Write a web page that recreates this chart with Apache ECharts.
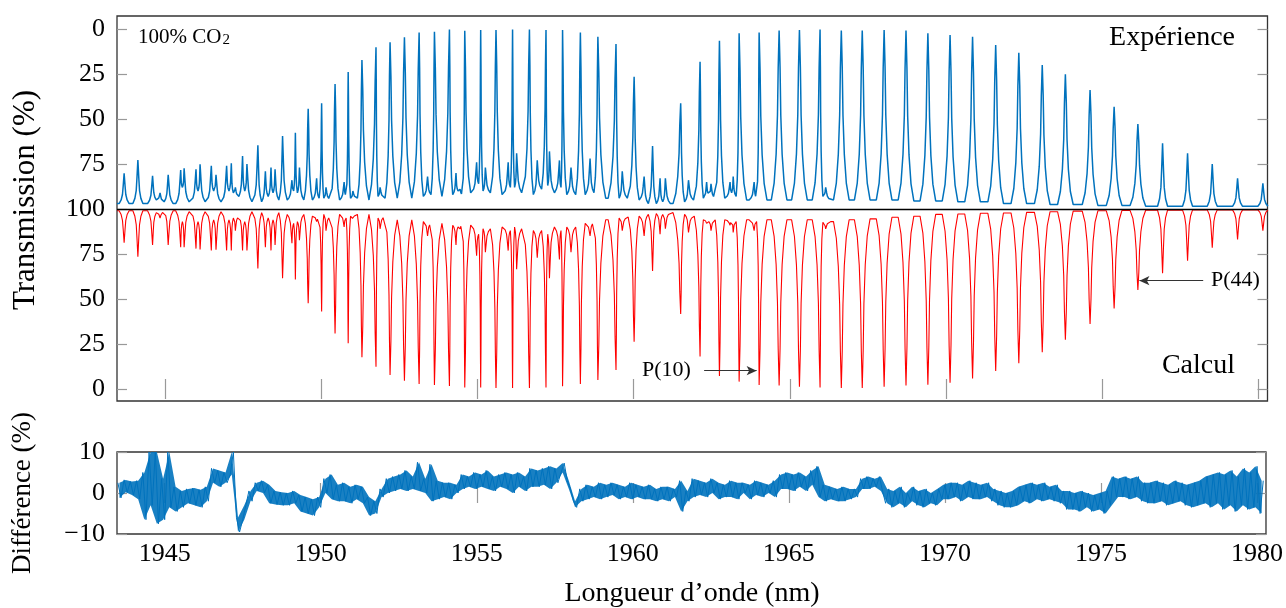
<!DOCTYPE html>
<html><head><meta charset="utf-8">
<script src="https://cdn.jsdelivr.net/npm/echarts@6/dist/echarts.min.js"></script>
<style>html,body{margin:0;padding:0;background:#fff}#c{width:1286px;height:608px}</style>
</head><body><div id="c"></div>
<script>
// ---- data ----
// line centres (nm)
const lineNm = [
1943.70,1944.14,1944.61,1944.85,1945.11,1945.51,1945.62,1946.00,1946.13,1946.49,
1946.64,1946.98,1947.13,1947.26,1947.49,1947.63,1947.98,1948.22,1948.40,1948.53,
1948.77,1949.07,1949.18,1949.31,1949.59,1949.86,1950.02,1950.16,1950.45,1950.74,
1950.87,1951.02,1951.31,1951.76,1951.89,1952.21,1952.67,1953.14,1953.41,1953.63,
1954.11,1954.32,1954.45,1954.60,1954.98,1955.11,1955.26,1955.60,1955.99,1956.13,
1956.26,1956.67,1956.92,1957.20,1957.31,1957.63,1957.73,1958.00,1958.30,1958.61,
1958.86,1959.44,1959.64,1960.02,1960.34,1960.61,1960.85,1961.02,1961.51,1961.76,
1962.13,1962.34,1962.48,1962.75,1963.09,1963.19,1963.38,1963.86,1964.02,1964.66,
1965.31,1965.97,1966.15,1966.65,1967.32,1968.02,1968.72,1969.42,1970.13,1970.85,
1971.59,1972.33,1973.08,1973.82,1974.61,1975.38,1976.14,1976.93,1977.73,1978.52,
1979.33,1980.14];
// measured transmission (%) at each line centre
const expPeak = [
80.2,72.8,81.5,91,81,78.3,77.4,78,75.2,76,
81,76,74.6,88,70.6,75,64.6,79,77,78,
59.4,84,57.6,77,44.3,83,41.3,88,30.6,85,
23.9,90,17.2,10.2,88,7.4,4.6,2.0,82,1.6,
0.3,80,89,1.0,74,0.6,77,0.6,74,0.3,
69,0.3,73,0.6,68,73,0.6,77,1.9,72,
4.3,8.3,79,26.5,82,65,83,83,41.3,84,
18.2,85,86,6.5,85,82,2.4,85,2.0,0.9,
0.6,0.3,88,0.9,0.9,0.6,0.9,2.4,3.3,4.3,
8.9,13.2,20,25.2,33.9,43.2,52.8,63.5,69.1,75,
83,85.8];
// calculated transmission (%) at each line centre
const calcPeak = [
81.3,73.5,80,95,80,78.7,78.7,78,77.5,76.9,
77.4,77,77,88,76.9,77,67,78.7,77,80,
61.5,81,60.9,82.6,47.6,93,43,88,30.9,90,
25.4,94,17.6,12.4,89,7.8,4.6,2.8,85,2.2,
1.7,80,89,0.9,74,0.9,76,0.6,76.9,0.6,
66.5,0.6,73,0.9,61.5,72,1.5,76,2.8,85,
5.0,10.6,88,26.3,85,65.6,86,89,41.7,87,
18,92,88,7.2,91,87,4.1,88,2.2,1.9,
1.3,0.9,89,0.6,0.6,1.3,1.9,2.4,3.5,5.9,
10,14.3,20.4,27.4,36.1,44.8,55,64.3,71.3,78.5,
83.1,88];
// transmission (%) between lines: before the first line, then after each line
const expGap = [97,
97,97,95,96,97,88,96,90,96,90,
96,90,91,93,90,96,96,93,91,95,
95,90,91,95,95,94,94,95,95,93,
94,94,95,93,94,94,94,93,92,93,
92,90,92,91,86,90,91,92,88,88,
91,92,89,87,91,88,92,92,92,91,
94,94,94,95,97,97,96,97,96,95,
94,92,94,94,91,93,95,94,95,95,
95,93,95,95,95,95,95.5,95.5,96,96,
97,97,97.5,97.5,98,98,98.5,98.5,98.5,98.5,
98.5,98.5];
const calcGap = [99,
99,99,98,98.5,99,93,98.5,93,98.5,94,
98.5,94,95,96,93,98.5,98,95,94,98,
97,92,93,97,96,95,97,96,97,95,
96,97,97,95,96,94,94,93,92,92,
91,90,91,91,86,89,89,90,88,90,
89,88,88,86,90,88,90,90,92,92.6,
94,95,95.5,96,97,97.5,97,98,97,96,
94,93,94,94,93,93,94,93,94,94,
94,92.6,93,94,94.5,95.4,96,97,97.2,97.6,
97.8,98.1,98.5,98.8,99,99.2,99.3,99.4,99.5,99.5,
99.5,99.5];
// difference (%) sampled every 0.1 nm from 1943.5 nm
const diffStart = 1943.5, diffStep = 0.1;
const diffValues = [
2.5,-1.2,3.2,0.2,2.8,
-0.5,3.0,-1.5,5.0,-6.5,10,-3,10,-7.5,3.5,
-6.5,10,-3.5,1.5,-4.5,0.5,-3.5,1.0,-2.5,1.2,
-3.0,0.8,-3.5,1.5,-2.0,6.0,2.5,5.5,1.5,5.0,
2.5,4.5,10,-6.0,-9.5,-6.5,-3.0,0.5,-2.0,2.5,
0.5,3.0,0.0,2.0,-2.5,0.5,-2.8,0.2,-3.0,0.0,
-3.0,0.5,-2.5,-0.5,-4.5,-1.0,-5.0,-1.5,-5.5,-1.0,
-3.5,3.5,0.0,4.5,-1.5,2.0,-2.0,2.5,-2.0,1.5,
-2.5,2.0,-1.5,1.5,-2.5,-1.0,-5.5,-2.0,-5.0,1.0,
-1.0,3.5,0.0,4.0,0.5,4.5,1.0,5.5,0.5,4.0,
1.0,7.5,0.5,3.5,0.0,7.0,-2.0,3.0,-1.5,2.5,
-1.0,2.5,-1.5,2.0,0.0,4.5,1.0,4.0,1.5,5.0,
1.0,4.5,1.5,5.5,1.0,4.0,0.5,4.5,1.5,5.0,
1.0,4.5,0.0,5.0,1.5,4.0,0.5,6.0,1.5,5.5,
1.5,6.0,2.0,6.5,1.0,6.0,2.5,5.0,7.3,3.0,
1.0,-2.0,-3.5,1.0,-2.0,2.0,-1.5,1.5,-1.0,2.5,
-1.5,2.0,-1.0,2.5,-0.5,2.0,-1.5,1.5,-1.0,2.5,
-1.5,2.0,-1.0,1.5,-1.5,2.0,-1.5,1.0,-2.0,1.5,
-1.5,1.5,-2.0,1.0,-1.0,3.0,-4.5,0.5,-2.0,3.5,
-1.0,3.0,-0.5,2.5,-1.0,3.5,0.0,2.5,-1.5,2.0,
-1.0,3.0,-1.0,2.5,-1.5,2.5,0.0,2.0,-1.5,3.0,
-0.5,2.5,-1.0,2.0,0.0,3.0,-1.0,4.5,1.0,5.0,
1.0,4.5,0.5,5.0,1.5,4.0,0.5,5.5,2.0,6.5,
-1.0,2.0,-2.0,1.5,-1.5,1.0,-2.0,1.5,-2.0,1.0,
-1.5,1.0,-1.0,3.5,1.0,4.0,1.0,3.5,1.5,4.0,
0.5,-2.5,1.0,-3.5,0.5,-2.5,1.5,-3.5,0.0,-2.0,
1.5,-3.0,0.5,-3.5,1.0,-2.5,0.0,-3.0,1.0,-1.5,
2.0,-1.5,2.5,-1.0,2.5,-2.0,2.0,-1.0,3.0,-1.5,
2.5,-1.5,2.0,-1.0,2.5,-2.0,1.0,-3.0,0.5,-3.5,
0.0,-3.5,0.5,-3.0,1.5,-2.0,2.0,-2.5,2.5,-1.5,
2.0,-2.0,2.5,-1.5,1.5,-2.0,2.0,-2.5,0.5,-4.0,
0.5,-4.0,0.0,-4.5,0.5,-3.5,0.0,-4.5,-0.5,-4.0,
0.0,-5.0,0.5,-3.0,4.0,-1.0,3.5,-1.0,4.0,-1.5,
3.5,-1.0,4.0,-2.0,2.5,-2.5,2.5,-2.5,3.0,-2.0,
2.5,-3.0,2.0,-2.5,3.0,-2.0,2.5,-3.0,2.0,-3.5,
2.5,-3.0,3.0,-2.5,4.0,-3.5,4.5,-2.5,5.0,-4.0,
4.5,-3.0,5.5,-4.5,4.0,-3.0,6.0,-4.0,5.0,-3.5,
6.5,-5.0,3.0];
// tick values / labels
const xTicks = [1945,1950,1955,1960,1965,1970,1975,1980];
const transTicks = [0,25,50,75,100,125,150,175,200];
const diffTicks = [-10,0,10];

// ---- layout / style ----
const X_MIN = 1943.472, X_MAX = 1980.288;
const FONT = '"Liberation Serif", "Times New Roman", serif';
const BLUE = '#0072BD', RED = '#FF0000';
const TICK = {inside:true, length:10, lineStyle:{color:'#999', width:1.2}};
// drawn shape of one absorption line: [half-offset (nm), share of the line depth]
const SHAPE_STRONG = [[0.25,0],[0.16,0.1],[0.096,0.27],[0.053,0.5],[0.03,0.78]];
const SHAPE_WEAK = [[0.16,0],[0.096,0.12],[0.053,0.3],[0.03,0.58]];

function buildProfile(peaks, gaps, mirror) {
  const pts = [[X_MIN, gaps[0]]];
  const n = lineNm.length;
  for (let i = 0; i < n; i++) {
    const c = lineNm[i], p = peaks[i], gl = gaps[i], gr = gaps[i+1];
    const shape = (Math.max(gl, gr) - p) > 40 ? SHAPE_STRONG : SHAPE_WEAK;
    const reach = shape[0][0];
    const dl = i > 0 ? c - lineNm[i-1] : 1;
    const dr = i < n-1 ? lineNm[i+1] - c : 1;
    const sl = Math.min(1, 0.5*dl/reach), sr = Math.min(1, 0.5*dr/reach);
    for (let k = 0; k < shape.length; k++) pts.push([c - shape[k][0]*sl, gl - shape[k][1]*(gl - p)]);
    pts.push([c, p]);
    for (let k = shape.length-1; k >= 0; k--) pts.push([c + shape[k][0]*sr, gr - shape[k][1]*(gr - p)]);
  }
  pts.push([X_MAX, gaps[gaps.length-1]]);
  return mirror ? pts.map(q => [q[0], 200 - q[1]]) : pts;
}
const diffData = diffValues.map((v, i) => [diffStart + i*diffStep, v]);

function xAx(grid, pos, labels) {
  return {type:'value', gridIndex:grid, position:pos, min:X_MIN, max:X_MAX,
    axisLine:{show:false}, splitLine:{show:false},
    axisTick:Object.assign({customValues:xTicks}, TICK),
    axisLabel:{show:labels, customValues:xTicks, margin:7, fontFamily:FONT, fontSize:26, color:'#000',
      formatter:v => String(v)}};
}
const chart = echarts.init(document.getElementById('c'), null, {renderer:'canvas'});
chart.setOption({
  animation:false,
  backgroundColor:'#fff',
  grid:[
    {left:117, top:16, width:1150.5, height:385, show:true, borderColor:'#333', borderWidth:1.3, backgroundColor:'transparent'},
    {left:117, top:452, width:1150.5, height:82, show:true, borderColor:'#333', borderWidth:1.3, backgroundColor:'transparent'}
  ],
  xAxis:[xAx(0,'bottom',false), xAx(0,'top',false), xAx(1,'bottom',true), xAx(1,'top',false)],
  yAxis:[
    {type:'value', gridIndex:0, position:'left', min:-6.67, max:207.22,
      axisLine:{show:false}, splitLine:{show:false},
      axisTick:Object.assign({customValues:transTicks}, TICK),
      axisLabel:{customValues:transTicks, margin:12, fontFamily:FONT, fontSize:26, color:'#000',
        formatter:v => String(v <= 100 ? v : 200 - v)}},
    {type:'value', gridIndex:0, position:'right', min:-6.67, max:207.22,
      axisLine:{show:false}, splitLine:{show:false},
      axisTick:Object.assign({customValues:transTicks}, TICK), axisLabel:{show:false}},
    {type:'value', gridIndex:1, position:'left', min:-10, max:10,
      axisLine:{show:false}, splitLine:{show:false},
      axisTick:Object.assign({customValues:diffTicks}, TICK),
      axisLabel:{customValues:diffTicks, margin:12, fontFamily:FONT, fontSize:26, color:'#000',
        formatter:v => String(v).replace('-', '\u2212')}},
    {type:'value', gridIndex:1, position:'right', min:-10, max:10,
      axisLine:{show:false}, splitLine:{show:false},
      axisTick:Object.assign({customValues:diffTicks}, TICK), axisLabel:{show:false}}
  ],
  series:[
    {name:'Expérience', type:'line', xAxisIndex:0, yAxisIndex:0, data:buildProfile(expPeak, expGap, true),
      symbol:'none', lineStyle:{color:BLUE, width:1.5}, z:3,
      markLine:{silent:true, symbol:['none','none'], label:{show:false}, animation:false,
        lineStyle:{color:'#000', width:1.4, type:'solid'}, data:[{yAxis:100}]}},
    {name:'Calcul', type:'line', xAxisIndex:0, yAxisIndex:0, data:buildProfile(calcPeak, calcGap, false),
      symbol:'none', lineStyle:{color:RED, width:1.1}, z:3,
      markLine:{silent:true, label:{show:false}, animation:false, symbolSize:[7,10],
        lineStyle:{color:'#333', width:1.1, type:'solid'},
        data:[
          [{coord:[1962.26, 10.2], symbol:'none'}, {coord:[1963.94, 10.2], symbol:'arrow'}],
          [{coord:[1978.23, 60.2], symbol:'none'}, {coord:[1976.19, 60.2], symbol:'arrow'}]
        ]}},
    // filled envelope of the noisy difference trace (pairs of consecutive samples)
    {name:'DifférenceBand', type:'custom', xAxisIndex:2, yAxisIndex:2, data:[[1960, 0]],
      encode:{x:0, y:1}, clip:true, silent:true, z:2,
      renderItem:(params, api) => {
        const up = [], lo = [];
        for (let k = 0; k + 1 < diffValues.length; k += 2) {
          const x = diffStart + (k + 0.5)*diffStep, a = diffValues[k], b = diffValues[k+1];
          up.push(api.coord([x, Math.max(a, b)]));
          lo.push(api.coord([x, Math.min(a, b)]));
        }
        return {type:'polygon', shape:{points:up.concat(lo.reverse())}, style:{fill:BLUE, opacity:0.9}};
      }},
    {name:'Différence', type:'line', xAxisIndex:2, yAxisIndex:2, data:diffData,
      symbol:'none', lineStyle:{color:BLUE, width:1}, z:3}
  ],
  graphic:[
    {type:'text', x:26, y:200, rotation:Math.PI/2, style:{text:'Transmission (%)', font:'31px '+FONT, fill:'#000', textAlign:'center', textVerticalAlign:'middle', align:'center', verticalAlign:'middle'}},
    {type:'text', x:23, y:493, rotation:Math.PI/2, style:{text:'Différence (%)', font:'27px '+FONT, fill:'#000', textAlign:'center', textVerticalAlign:'middle', align:'center', verticalAlign:'middle'}},
    {type:'text', x:692, y:594, style:{text:'Longueur d’onde (nm)', font:'28px '+FONT, fill:'#000', textAlign:'center', textVerticalAlign:'middle', align:'center', verticalAlign:'middle'}},
    {type:'text', x:1235, y:38, style:{text:'Expérience', font:'28px '+FONT, fill:'#000', textAlign:'right', textVerticalAlign:'middle', align:'right', verticalAlign:'middle'}},
    {type:'text', x:1235, y:366, style:{text:'Calcul', font:'28px '+FONT, fill:'#000', textAlign:'right', textVerticalAlign:'middle', align:'right', verticalAlign:'middle'}},
    {type:'text', x:642, y:370, style:{text:'P(10)', font:'22px '+FONT, fill:'#000', textAlign:'left', textVerticalAlign:'middle', align:'left', verticalAlign:'middle'}},
    {type:'text', x:1211, y:280, style:{text:'P(44)', font:'22px '+FONT, fill:'#000', textAlign:'left', textVerticalAlign:'middle', align:'left', verticalAlign:'middle'}},
    {type:'text', x:138, y:37, style:{text:'{a|100% CO}{b|2}', fill:'#000', textAlign:'left', textVerticalAlign:'middle', align:'left', verticalAlign:'middle',
      rich:{a:{fontFamily:FONT, fontSize:21, verticalAlign:'bottom'}, b:{fontFamily:FONT, fontSize:15, verticalAlign:'bottom', padding:[0,0,0,1]}}}}
  ]
});
</script></body></html>
